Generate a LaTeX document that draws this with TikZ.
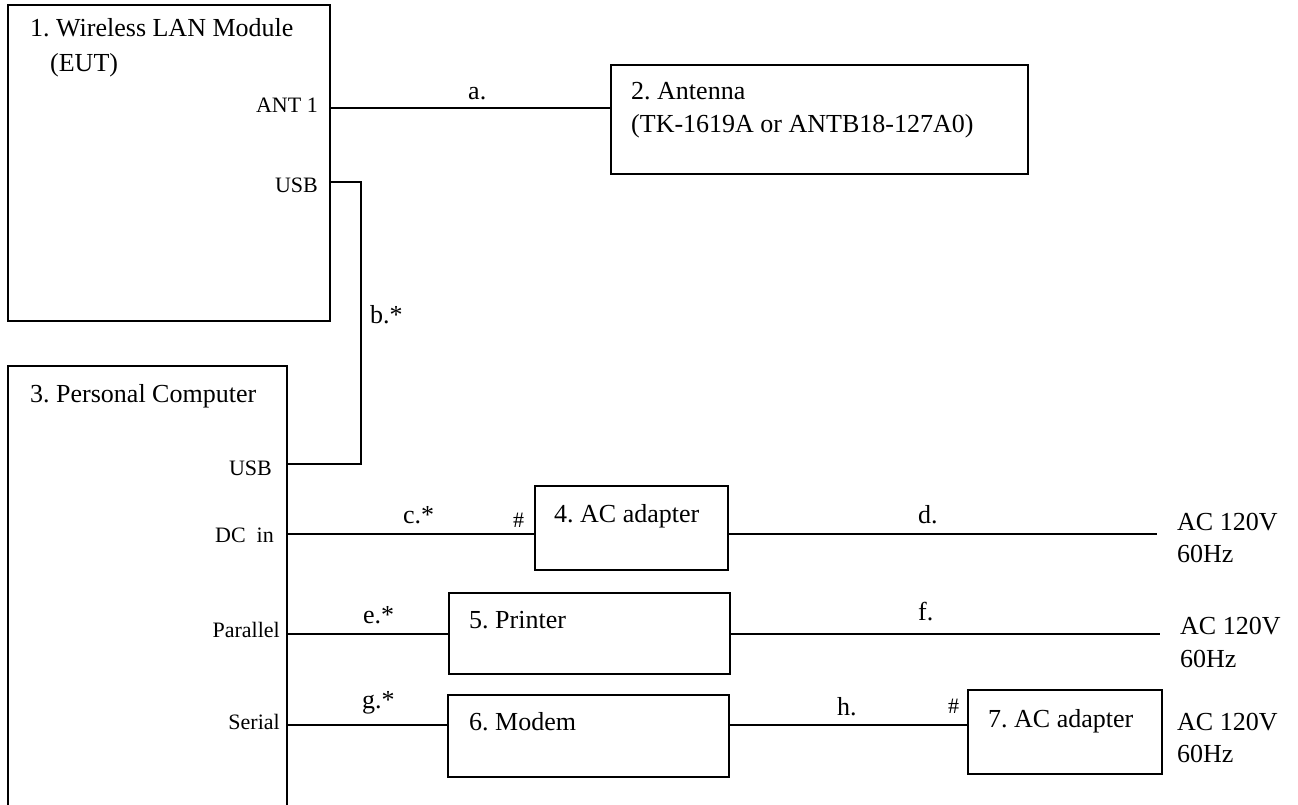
\documentclass[tikz,border=0pt]{standalone}
\usepackage{fontspec}
\setmainfont{Liberation Serif}
\frenchspacing
\begin{document}
\begin{tikzpicture}[x=1pt,y=-1pt,
  box/.style={draw,line width=1.6pt,inner sep=0pt,outer sep=0pt},
  wire/.style={line width=1.6pt},
  txt/.style={inner sep=0pt,anchor=base west,font=\frenchspacing\fontsize{26}{30}\selectfont},
  port/.style={inner sep=0pt,anchor=base east,font=\frenchspacing\fontsize{22}{26}\selectfont},
  hash/.style={inner sep=0pt,anchor=base west,font=\fontsize{22}{26}\selectfont}]
\useasboundingbox (0,0) rectangle (1298,805);
% boxes
\node[box,minimum width=322,minimum height=316] (eut) at (169,163) {};
\node[box,minimum width=417,minimum height=109] (ant) at (819.5,119.5) {};
\node[box,minimum width=279,minimum height=464] (pc) at (147.5,598) {};
\node[box,minimum width=193,minimum height=84] (ac4) at (631.5,528) {};
\node[box,minimum width=281,minimum height=81] (prn) at (589.5,633.5) {};
\node[box,minimum width=281,minimum height=82] (mdm) at (588.5,736) {};
\node[box,minimum width=194,minimum height=84] (ac7) at (1065,732) {};
% box texts
\node[txt] (t1) at (30,37) {1. Wireless LAN Module};
\node[txt] (t1b) at (50,72) {(EUT)};
\node[txt] (t2) at (631,100) {2. Antenna};
\node[txt] (t2b) at (631,133) {(TK-1619A or ANTB18-127A0)};
\node[txt] (t3) at (30,402) {3. Personal Computer};
\node[txt] (t4) at (554,522) {4. AC adapter};
\node[txt] (t5) at (469,628) {5. Printer};
\node[txt] (t6) at (469,730) {6. Modem};
\node[txt] (t7) at (988,727) {7. AC adapter};
% port labels
\node[port] (lant) at (318,113) {ANT 1};
\node[port] (lusb1) at (318,193) {USB};
\node[port] (lusb3) at (272,475) {USB};
\node[port] (ldc) at (274,542) {DC\ \ in};
\node[port] (lpar) at (280,637) {Parallel};
\node[port] (lser) at (280,729) {Serial};
% port coordinates
\coordinate (pant) at (330,108);
\coordinate (pusb1) at (330,182);
\coordinate (bend1) at (361,182);
\coordinate (bend2) at (361,464);
\coordinate (pusb3) at (287,464);
\coordinate (pdc) at (287,534);
\coordinate (ppar) at (287,634);
\coordinate (pser) at (287,725);
\coordinate (endd) at (1157,534);
\coordinate (endf) at (1160,634);
% connectors
\draw[wire] (pant) -- (ant.west |- pant);
\draw[wire] (pusb1) -- (bend1) -- (bend2) -- (pusb3);
\draw[wire] (pdc) -- (ac4.west |- pdc);
\draw[wire] (ac4.east |- pdc) -- (endd);
\draw[wire] (ppar) -- (prn.west |- ppar);
\draw[wire] (prn.east |- ppar) -- (endf);
\draw[wire] (pser) -- (mdm.west |- pser);
\draw[wire] (mdm.east |- pser) -- (ac7.west |- pser);
% cable labels
\node[txt] (la) at (468,100) {a.};
\node[txt] (lb) at (370,323) {b.*};
\node[txt] (lc) at (403,523) {c.*};
\node[hash] (h4) at (513,527) {\#};
\node[txt] (ld) at (918,523) {d.};
\node[txt] (le) at (363,623) {e.*};
\node[txt] (lf) at (918,620) {f.};
\node[txt] (lg) at (362,708) {g.*};
\node[txt] (lh) at (837,715) {h.};
\node[hash] (h7) at (948,713) {\#};
% mains
\node[txt] (m1) at (1177,530) {AC 120V};
\node[txt] (m1b) at (1177,562) {60Hz};
\node[txt] (m2) at (1180,634) {AC 120V};
\node[txt] (m2b) at (1180,667) {60Hz};
\node[txt] (m3) at (1177,730) {AC 120V};
\node[txt] (m3b) at (1177,762) {60Hz};
\end{tikzpicture}
\end{document}
